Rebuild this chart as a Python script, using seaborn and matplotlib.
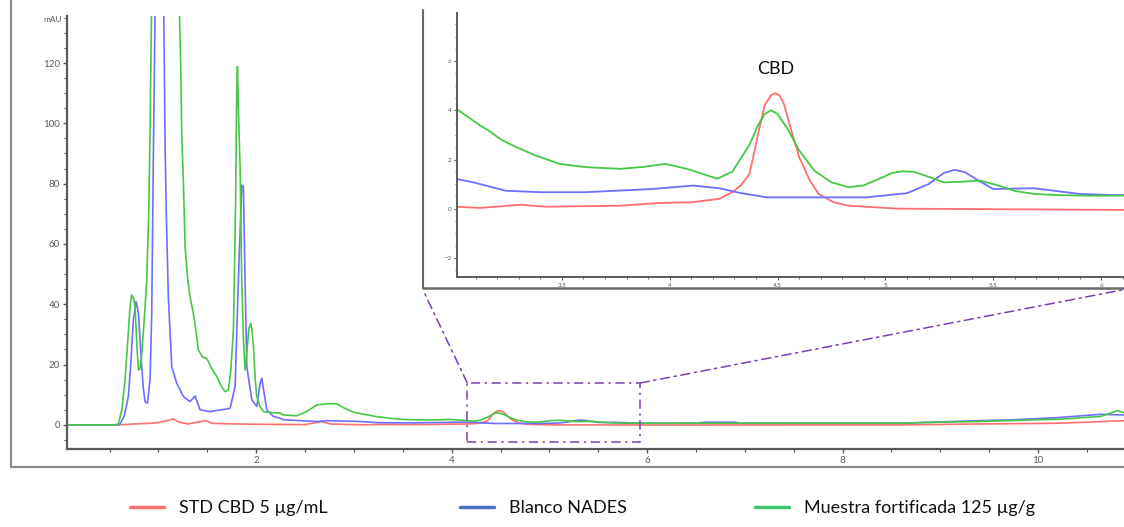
import numpy as np
import pandas as pd
import matplotlib
matplotlib.use("Agg")
import matplotlib.pyplot as plt
import seaborn as sns
from matplotlib.lines import Line2D
from matplotlib.patches import Rectangle, ConnectionPatch

# ---------------- data ----------------
std_t = [0.06, 0.6, 0.75, 0.9, 1.0, 1.1, 1.153, 1.2, 1.3, 1.45, 1.49, 1.55, 1.8, 2.0,
         2.5, 2.67, 2.76, 3.01, 3.12, 3.31, 3.42, 3.77, 3.95, 4.1, 4.23, 4.29, 4.33,
         4.37, 4.41, 4.44, 4.47, 4.49, 4.51, 4.53, 4.56, 4.6, 4.65, 4.69, 4.76, 4.83,
         5.06, 6.1, 8.6, 9.4, 10.23, 10.88]
std_y = [0, 0, 0.3, 0.5, 0.8, 1.5, 2.0, 1.0, 0.3, 1.2, 1.4, 0.5, 0.3, 0.2,
         0.1, 1.1, 0.3, 0.08, 0.03, 0.16, 0.08, 0.12, 0.23, 0.26, 0.4, 0.67, 0.95,
         1.41, 3.05, 4.2, 4.62, 4.7, 4.6, 4.25, 3.3, 2.1, 1.14, 0.6, 0.26, 0.12,
         0.0, -0.05, 0.0, 0.3, 0.55, 1.4]

blanco_t = [0.06, 0.58, 0.607, 0.65, 0.692, 0.72, 0.743, 0.771, 0.795, 0.812, 0.829,
            0.845, 0.863, 0.887, 0.914, 0.931, 0.948, 0.97, 1.0, 1.05, 1.068, 1.08,
            1.101, 1.136, 1.187, 1.255, 1.323, 1.374, 1.426, 1.528, 1.682, 1.733,
            1.784, 1.818, 1.852, 1.869, 1.886, 1.904, 1.955, 2.006, 2.04, 2.057,
            2.081, 2.108, 2.176, 2.245, 2.28, 2.62, 2.72, 2.96, 3.01, 3.09, 3.24,
            3.4, 3.61, 3.92, 4.11, 4.23, 4.32, 4.45, 4.91, 5.1, 5.2, 5.27, 5.32,
            5.37, 5.42, 5.5, 5.69, 5.9, 6.06, 6.5, 6.6, 6.9, 6.95, 8.6, 9.2, 9.72,
            10.2, 10.64, 10.88]
blanco_y = [0, 0, 0.3, 3, 9.4, 22, 34.8, 40.9, 37, 28, 19.3,
            12, 7.7, 7.2, 14.9, 37, 90, 150, 200, 150, 92.2, 70,
            42.5, 19.3, 13.8, 9.4, 7.7, 9.6, 5, 4.4, 5.2, 5.5,
            12.7, 48, 79.5, 79, 48, 19.3, 8.3, 6.1, 13.8, 15.5,
            10.5, 5, 2.8, 2.2, 1.7, 1.1, 1.4, 1.2, 1.21, 1.07, 0.73,
            0.67, 0.67, 0.8, 0.94, 0.83, 0.65, 0.46, 0.46, 0.63, 1.0, 1.45, 1.58,
            1.48, 1.2, 0.8, 0.83, 0.6, 0.55, 0.55, 0.9, 0.9, 0.55, 0.55, 1.2, 1.66,
            2.4, 3.5, 3.3]

muestra_t = [0.06, 0.55, 0.59, 0.625, 0.658, 0.69, 0.709, 0.726, 0.745, 0.76, 0.78,
             0.795, 0.81, 0.83, 0.863, 0.88, 0.9, 0.914, 0.93, 0.98, 1.05, 1.15,
             1.215, 1.228, 1.238, 1.255, 1.272, 1.3, 1.323, 1.357, 1.38, 1.408,
             1.45, 1.494, 1.54, 1.597, 1.64, 1.682, 1.716, 1.74, 1.767, 1.79, 1.8,
             1.808, 1.818, 1.835, 1.852, 1.87, 1.886, 1.904, 1.925, 1.945, 1.958,
             1.972, 1.99, 2.006, 2.04, 2.074, 2.15, 2.245, 2.28, 2.415, 2.52, 2.62,
             2.72, 2.825, 2.9, 3.01, 3.12, 3.16, 3.22, 3.29, 3.38, 3.49, 3.61, 3.77,
             3.88, 3.98, 4.08, 4.15, 4.22, 4.29, 4.37, 4.41, 4.44, 4.47, 4.5, 4.55,
             4.6, 4.67, 4.75, 4.83, 4.9, 4.98, 5.03, 5.08, 5.13, 5.2, 5.27, 5.36,
             5.44, 5.52, 5.6, 5.69, 5.8, 5.95, 6.1, 6.5, 7.5, 8.59, 9.0, 9.38, 9.8,
             10.23, 10.64, 10.75, 10.81, 10.88]
muestra_y = [0, 0, 0.3, 5, 14.9, 30, 39.2, 43.1, 42, 39.2, 26,
             18.2, 18.5, 23.8, 39.2, 48, 70, 98, 140, 175, 180, 160,
             136, 118.8, 96.8, 80.6, 59.1, 48, 42.5, 37, 32, 24.9,
             22.5, 22.1, 19, 16, 13, 11, 11.6, 18, 31.5, 75, 110,
             118.8, 104.4, 85.6, 48, 28, 18.2, 23.8, 32, 33.7, 31,
             26, 15, 9.4, 6, 4.4, 4.1, 3.9, 3.3, 3.0, 4.5, 6.6,
             7.0, 7.0, 5.6, 4.07, 3.39, 3.18, 2.8, 2.5, 2.16, 1.82, 1.69, 1.62,
             1.7, 1.82, 1.62, 1.42, 1.22, 1.5, 2.6, 3.4, 3.85, 4.0, 3.85, 3.2,
             2.37, 1.55, 1.07, 0.87, 0.95, 1.25, 1.45, 1.52, 1.5, 1.3, 1.07, 1.1,
             1.14, 0.95, 0.72, 0.6, 0.55, 0.53, 0.53, 0.55, 0.55, 0.55, 0.9, 1.1,
             1.5, 1.9, 2.8, 4.0, 4.7, 4.1]

series_names = ["STD CBD 5 µg/mL", "Blanco NADES", "Muestra fortificada 125 µg/g"]
line_colors = ["#FF6E6E", "#6E6EFF", "#46C846"]
legend_colors = ["#FF7272", "#4A70BE", "#3CC46E"]
legend_x_px = [130, 460, 755]

main_yticks = [0, 20, 40, 60, 80, 100, 120]
main_xticks = [2, 4, 6, 8, 10]
inset_yticks = [-2, 0, 2, 4, 6]
inset_xticks = [3.5, 4, 4.5, 5, 5.5, 6]
inset_xlabels = ["3.5", "4", "4.5", "5", "5.5", "6"]

# ---------------- build long table ----------------
frames = []
for name, t, y in zip(series_names, [std_t, blanco_t, muestra_t],
                      [std_y, blanco_y, muestra_y]):
    frames.append(pd.DataFrame({"t": t, "y": y, "serie": name}))
df = pd.concat(frames, ignore_index=True)
palette = dict(zip(series_names, line_colors))

sns.set_style("white")
plt.rcParams["font.family"] = ["Lato", "DejaVu Sans"]

W, H = 1124, 527
fig = plt.figure(figsize=(W / 100, H / 100), dpi=100)

def fx(px):
    return px / W

def fy(py):
    return 1 - py / H

spine_c = "#5a5a5a"
tick_c = "#5a5a5a"

# ---------------- main axes ----------------
ax = fig.add_axes([fx(67), fy(449), fx(1124) - fx(67), fy(16) - fy(449)])
ax.set_zorder(0)
sns.lineplot(data=df, x="t", y="y", hue="serie", palette=palette, estimator=None,
             sort=False, units="serie", legend=False, lw=1.2, ax=ax)
ax.set_xlim(0.064, 10.88)
ax.set_ylim(-8, 135.6)
ax.set_xlabel("")
ax.set_ylabel("")
ax.set_yticks(main_yticks)
ax.set_yticks(np.arange(-5, 136, 5), minor=True)
ax.set_xticks(main_xticks)
ax.set_xticks(np.arange(0.5, 10.9, 0.5), minor=True)
for s in ["top", "right"]:
    ax.spines[s].set_visible(False)
for s in ["left", "bottom"]:
    ax.spines[s].set_color(spine_c)
    ax.spines[s].set_linewidth(1.6)
ax.tick_params(which="major", length=3, width=1, color=spine_c, labelsize=7,
               labelcolor=tick_c, pad=2, direction="out", left=True, bottom=True)
ax.tick_params(which="minor", length=2, width=0.8, color=spine_c, direction="out",
               left=True, bottom=True)
fig.text(fx(62), fy(20), "mAU", ha="right", va="center", fontsize=6, color=tick_c)

# ---------------- zoom box and connectors ----------------
box_x0, box_x1, box_y0, box_y1 = 4.16, 5.93, -5.6, 13.9
zoom_c = "#7B3FB5"
ax.add_patch(Rectangle((box_x0, box_y0), box_x1 - box_x0, box_y1 - box_y0,
                       fill=False, ec=zoom_c, lw=1.1, ls=(0, (6, 3, 1.5, 3)), zorder=5))

# inset frame (white panel)
frame = Rectangle((fx(423), fy(288)), fx(1124) - fx(423), fy(8) - fy(288),
                  transform=fig.transFigure, facecolor="white", edgecolor="none",
                  zorder=1)
fig.patches.append(frame)
fig.lines.append(Line2D([fx(423), fx(423)], [fy(10), fy(288)], transform=fig.transFigure,
                        color="#6a6a6a", lw=1.5, zorder=1.5))
fig.lines.append(Line2D([fx(423), fx(1124)], [fy(288), fy(288)], transform=fig.transFigure,
                        color="#6a6a6a", lw=1.8, zorder=1.5))

for xa, xb in [(box_x0, fx(423)), (box_x1, fx(1122))]:
    cp = ConnectionPatch(xyA=(xa, box_y1), coordsA=ax.transData,
                         xyB=(xb, fy(290)), coordsB=fig.transFigure,
                         color=zoom_c, lw=1.1, ls=(0, (6, 3, 1.5, 3)), zorder=3)
    fig.add_artist(cp)

# ---------------- inset axes ----------------
axi = fig.add_axes([fx(457), fy(277), fx(1124) - fx(457), fy(13) - fy(277)])
axi.set_zorder(2)
axi.patch.set_alpha(0)
sns.lineplot(data=df, x="t", y="y", hue="serie", palette=palette, estimator=None,
             sort=False, units="serie", legend=False, lw=1.3, ax=axi)
axi.set_xlim(3.014, 6.106)
axi.set_ylim(-2.78, 7.96)
axi.set_xlabel("")
axi.set_ylabel("")
axi.set_yticks(inset_yticks)
axi.set_yticks(np.arange(-2.5, 8, 0.5), minor=True)
axi.set_xticks(inset_xticks)
axi.set_xticklabels(inset_xlabels)
axi.set_xticks(np.arange(3.1, 6.11, 0.1), minor=True)
for s in ["top", "right"]:
    axi.spines[s].set_visible(False)
for s in ["left", "bottom"]:
    axi.spines[s].set_color(spine_c)
    axi.spines[s].set_linewidth(1.4)
axi.tick_params(which="major", length=2.5, width=0.8, color=spine_c, labelsize=4.5,
                labelcolor=tick_c, pad=1.5, direction="out", left=True, bottom=True)
axi.tick_params(which="minor", length=1.5, width=0.6, color=spine_c, direction="out",
                left=True, bottom=True)
axi.text(4.49, 5.35, "CBD", ha="center", va="bottom", fontsize=13, color="#111111")

# ---------------- outer frame ----------------
fig.lines.append(Line2D([fx(11), fx(11)], [fy(0), fy(467)], transform=fig.transFigure,
                        color="#8a8a8a", lw=1.6, zorder=4))
fig.lines.append(Line2D([fx(11), fx(1124)], [fy(467), fy(467)], transform=fig.transFigure,
                        color="#8a8a8a", lw=1.6, zorder=4))

# ---------------- legend (one entry per position) ----------------
for name, c, xp in zip(series_names, legend_colors, legend_x_px):
    leg = fig.legend([Line2D([0], [0], color=c, lw=2.5)], [name], loc="center left",
                     bbox_to_anchor=(fx(xp), fy(508)), frameon=False,
                     fontsize=13, handlelength=1.9, handletextpad=0.8,
                     borderpad=0, borderaxespad=0)
    for t in leg.get_texts():
        t.set_color("#111111")

fig.savefig("out.png", dpi=100)
